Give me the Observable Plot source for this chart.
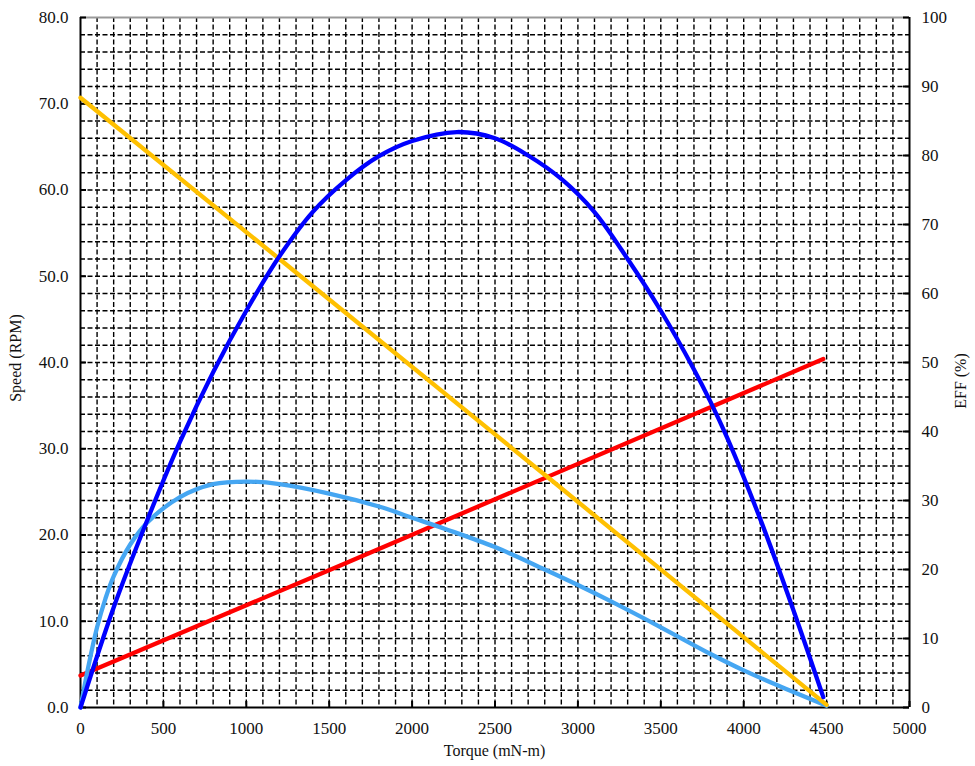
<!DOCTYPE html>
<html>
<head>
<meta charset="utf-8">
<script src="https://cdn.jsdelivr.net/npm/d3@7"></script>
<script src="https://cdn.jsdelivr.net/npm/@observablehq/plot@0.6"></script>
<style>
  html, body { margin: 0; padding: 0; background: #fff; }
</style>
</head>
<body>
<div id="chart"></div>
<script>
// ---- data ----
// Torque (mN-m) values and left-axis (Speed scale) readings
const speedTorque = [0, 1200, 2850, 4500];
const speedValues = [70.7, 52.0, 26.2, 0.3];          // yellow (Speed, RPM)

const redTorque = [0, 1570, 4480];
const redValues = [3.7, 16.5, 40.4];                 // red (left-axis units)

const powerTorque = [0, 50, 100, 150, 200, 300, 400, 600, 800, 1000, 1200, 1500, 1800, 2000, 2200, 2500, 2800, 3000, 3200, 3500, 3800, 4000, 4200, 4500];
const powerValues = [0, 5.0, 9.3, 12.6, 15.2, 18.9, 21.4, 24.4, 25.9, 26.2, 25.9, 24.8, 23.3, 22.0, 20.7, 18.6, 16.0, 14.2, 12.3, 9.3, 6.2, 4.3, 2.6, 0.2]; // light blue (left-axis units)

const effTorque = [0, 200, 400, 600, 800, 1000, 1200, 1400, 1600, 1800, 2000, 2270, 2500, 2700, 2900, 3100, 3300, 3500, 3700, 3800, 3900, 4100, 4300, 4480];
const effValues = [0, 14.5, 27.0, 38.5, 48.6, 57.5, 65.4, 71.8, 76.4, 79.9, 82.1, 83.4, 82.5, 80.0, 76.6, 71.8, 65.0, 57.5, 49.0, 44.3, 39.1, 27.3, 14.1, 1.5]; // dark blue (EFF %)

// axes
const xTicks = [0, 500, 1000, 1500, 2000, 2500, 3000, 3500, 4000, 4500, 5000];
const speedTicks = [0, 10, 20, 30, 40, 50, 60, 70, 80];
const effTicks = [0, 10, 20, 30, 40, 50, 60, 70, 80, 90, 100];
const xLabel = "Torque (mN-m)";
const yLabelLeft = "Speed (RPM)";
const yLabelRight = "EFF (%)";

// ---- derived tables ----
const speedMax = 80, effMax = 100;
const effToLeft = v => v * speedMax / effMax;
const toRows = (xs, ys) => xs.map((x, i) => ({x, y: ys[i]}));
const speedRows = toRows(speedTorque, speedValues);
const redRows = toRows(redTorque, redValues);
const powerRows = toRows(powerTorque, powerValues);
const effRows = toRows(effTorque, effValues.map(effToLeft));
const xGrid = d3.range(100, 5000, 100);
const yGrid = d3.range(2, 80, 2);

const W = 975, H = 766;
const mL = 80, mR = 66, mT = 17, mB = 59;
const font = "'Liberation Serif', 'Times New Roman', serif";

const gridStyle = {stroke: "#000", strokeWidth: 1.4, strokeDasharray: "5,2.5"};

const chart = Plot.plot({
  width: W, height: H,
  marginLeft: mL, marginRight: mR, marginTop: mT, marginBottom: mB,
  style: {fontFamily: font, fontSize: "17px", background: "#fff", color: "#111"},
  x: {domain: [0, 5000]},
  y: {domain: [0, 80]},
  marks: [
    Plot.ruleX(xGrid, gridStyle),
    Plot.ruleY(yGrid, gridStyle),
    // frame
    Plot.ruleY([80], {stroke: "#999", strokeWidth: 2}),
    Plot.ruleX([0], {stroke: "#000", strokeWidth: 2}),
    Plot.ruleX([5000], {stroke: "#000", strokeWidth: 2}),
    Plot.ruleY([0], {stroke: "#000", strokeWidth: 2}),
    // inward ticks
    Plot.ruleY(speedTicks, {x1: 0, x2: 0, insetRight: -6, stroke: "#000", strokeWidth: 2}),
    Plot.ruleY(effTicks.map(effToLeft), {x1: 5000, x2: 5000, insetLeft: -6, stroke: "#000", strokeWidth: 2}),
    Plot.ruleX(xTicks, {y1: 0, y2: 0, insetTop: -6, stroke: "#000", strokeWidth: 2}),
    // series
    Plot.line(redRows, {x: "x", y: "y", stroke: "#FF0000", strokeWidth: 4.3}),
    Plot.line(powerRows, {x: "x", y: "y", stroke: "#45A6F2", strokeWidth: 4.3, curve: "catmull-rom"}),
    Plot.line(speedRows, {x: "x", y: "y", stroke: "#FFC000", strokeWidth: 4.3}),
    Plot.line(effRows, {x: "x", y: "y", stroke: "#0000FF", strokeWidth: 4.3, curve: "catmull-rom"}),
    // axes
    Plot.axisX(xTicks, {anchor: "bottom", tickSize: 0, tickPadding: 14, label: null, tickFormat: d => String(d)}),
    Plot.axisY(speedTicks, {anchor: "left", tickSize: 0, tickPadding: 12, label: null, tickFormat: d => d.toFixed(1)}),
    Plot.axisY(effTicks.map(effToLeft), {anchor: "right", tickSize: 0, tickPadding: 12, label: null, tickFormat: d => String(Math.round(d * effMax / speedMax))})
  ]
});

const svg = d3.select(chart);
svg.append("text")
  .attr("x", (mL + (W - mR)) / 2).attr("y", 756)
  .attr("text-anchor", "middle")
  .attr("font-family", font).attr("font-size", 16).attr("fill", "#111")
  .text(xLabel);
svg.append("text")
  .attr("transform", `translate(21,358) rotate(-90)`)
  .attr("text-anchor", "middle")
  .attr("font-family", font).attr("font-size", 16).attr("fill", "#111")
  .text(yLabelLeft);
svg.append("text")
  .attr("transform", `translate(966,381) rotate(-90)`)
  .attr("text-anchor", "middle")
  .attr("font-family", font).attr("font-size", 16).attr("fill", "#111")
  .text(yLabelRight);

document.getElementById("chart").appendChild(chart);
</script>
</body>
</html>
